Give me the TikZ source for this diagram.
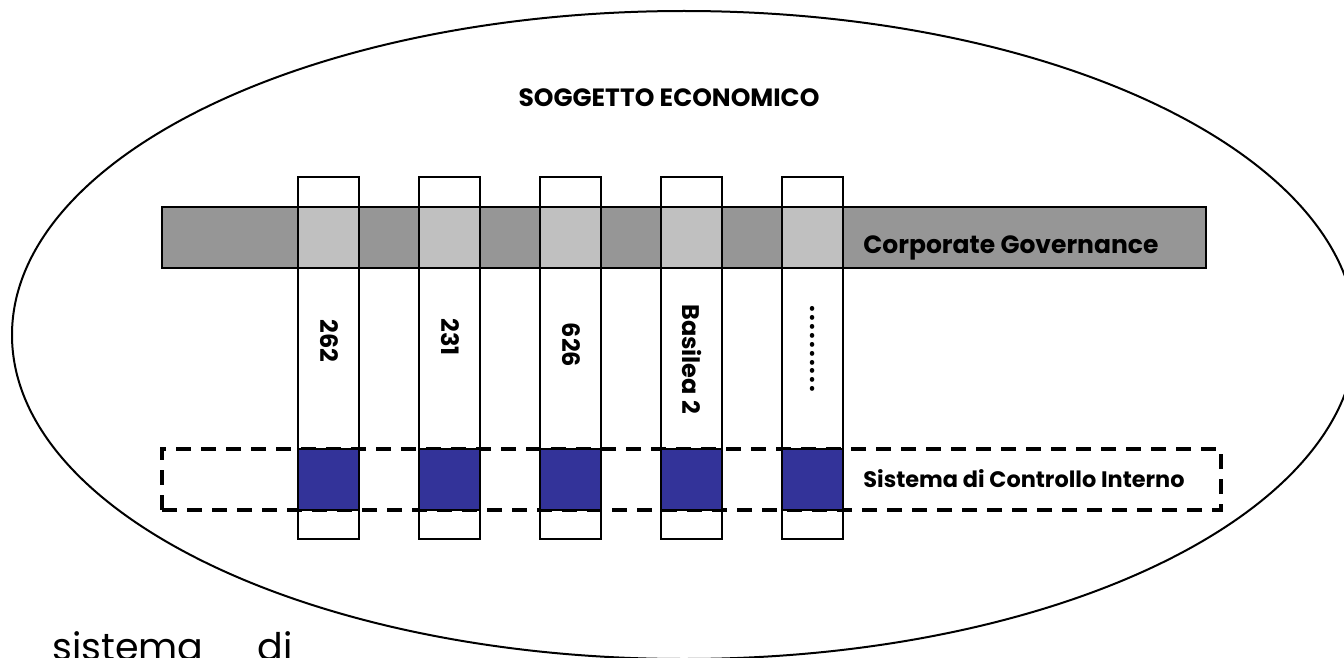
\documentclass[tikz,border=0pt]{standalone}
\usepackage{fontspec}
\setmainfont{Poppins}
\usepackage{xcolor}
\usetikzlibrary{shapes.geometric}
\usetikzlibrary{positioning}
\definecolor{cgband}{RGB}{150,150,150}
\definecolor{cgcell}{RGB}{192,192,192}
\definecolor{scicell}{RGB}{51,51,153}

\begin{document}
\begin{tikzpicture}[x=0.5pt,y=-0.5pt,
    norm/.style={draw,line width=1pt,inner sep=0pt},
    col/.style={norm,fill=white,minimum width=30.5pt,minimum height=181pt},
    cell/.style={norm,minimum width=30.5pt,minimum height=30.5pt},
    vlab/.style={rotate=-90,inner sep=0pt,font=\bfseries\fontsize{12}{14}\selectfont},
    lab/.style={inner sep=0pt,font=\bfseries\fontsize{12.5}{14}\selectfont}]
      \useasboundingbox (0,0) rectangle (1344,658);
      \clip (0,0) rectangle (1344,658);

      \node[ellipse,draw,line width=1pt,minimum width=672pt,minimum height=324pt] (se) at (684,335) {};
      \node[lab,anchor=base] (set) at (669,107) {SOGGETTO ECONOMICO};

      \node[col] (c1) at (328.5,358) {}; \node[col] (c2) at (449.5,358) {};
      \node[col] (c3) at (570.5,358) {}; \node[col] (c4) at (691.5,358) {};
      \node[col] (c5) at (812.5,358) {};

      \node[norm,fill=cgband,minimum width=522pt,minimum height=30.5pt] (cg) at (684,237.5) {};
      \node[cell,fill=cgcell] (g1) at (c1 |- cg) {}; \node[cell,fill=cgcell] (g2) at (c2 |- cg) {};
      \node[cell,fill=cgcell] (g3) at (c3 |- cg) {}; \node[cell,fill=cgcell] (g4) at (c4 |- cg) {};
      \node[cell,fill=cgcell] (g5) at (c5 |- cg) {};
      \node[lab,anchor=base west] (cgt) at (863,253) {Corporate Governance};

      \node[draw,dash pattern=on 7.5pt off 5pt,line width=2pt,inner sep=0pt,
        minimum width=529.5pt,minimum height=30.5pt] (sci) at (691.5,479.5) {};
      \node[cell,fill=scicell] (b1) at (c1 |- sci) {}; \node[cell,fill=scicell] (b2) at (c2 |- sci) {};
      \node[cell,fill=scicell] (b3) at (c3 |- sci) {}; \node[cell,fill=scicell] (b4) at (c4 |- sci) {};
      \node[cell,fill=scicell] (b5) at (c5 |- sci) {};
      \node[lab,anchor=base west,font=\bfseries\fontsize{11.2}{13}\selectfont] (scit) at (863,487) {Sistema di Controllo Interno};

      \node[vlab] (l1) at (329,341) {262};
      \node[vlab] (l2) at (450,337) {231};
      \node[vlab] (l3) at (571,345) {626};
      \node[vlab] (l4) at (692,359) {Basilea 2};
      \node[vlab] (l5) at (813,349) {\addfontfeature{LetterSpace=9}..........};

      \node[anchor=base west,inner sep=0pt,font=\fontsize{19}{22}\selectfont] (sd) at (52,660) {sistema\hspace{27pt}di};
    \end{tikzpicture}
\end{document}
